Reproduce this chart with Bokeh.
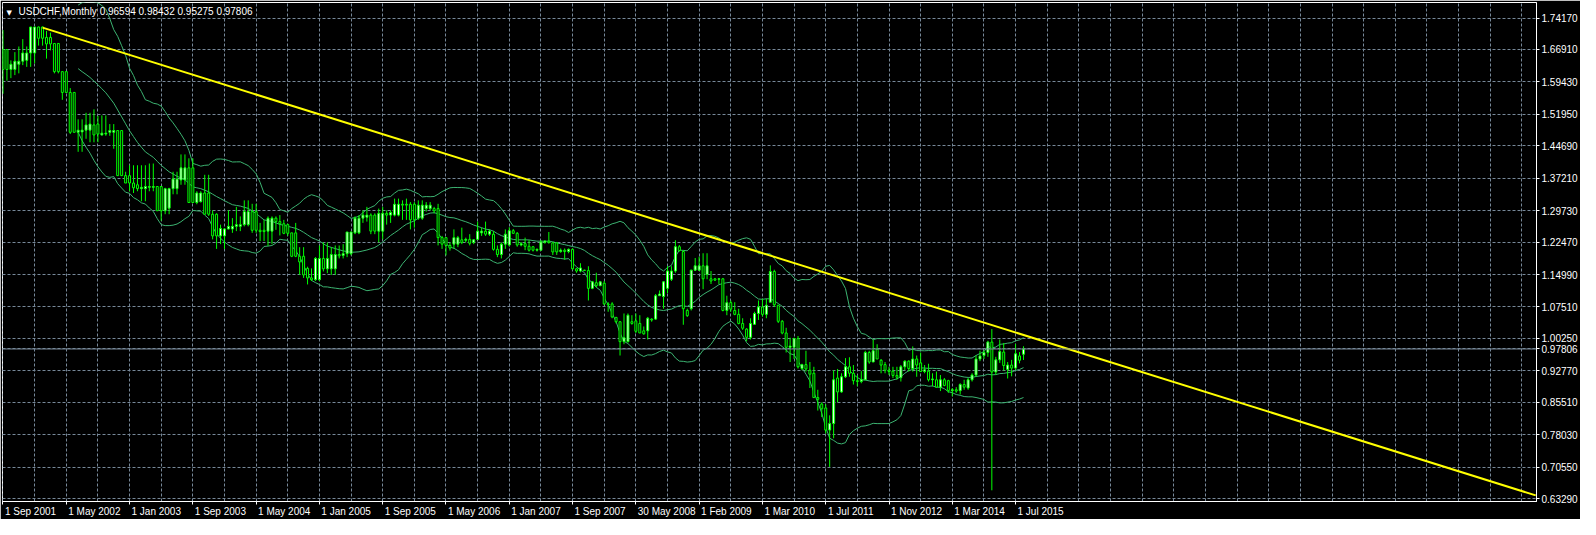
import numpy as np
from bokeh.plotting import figure
from bokeh.models import Range1d, FixedTicker, PrintfTickFormatter, Span, Label, ColumnDataSource, LinearAxis
from bokeh.embed import file_html
from bokeh.resources import INLINE

symbol = "USDCHF,Monthly"

opens = [
    1.669, 1.669, 1.623, 1.623, 1.635, 1.642, 1.644, 1.661, 1.661, 1.721,
    1.721, 1.697, 1.697, 1.683, 1.683, 1.618, 1.618, 1.570, 1.570, 1.478,
    1.479, 1.483, 1.483, 1.495, 1.497, 1.472, 1.474, 1.478, 1.478, 1.482,
    1.482, 1.378, 1.378, 1.361, 1.357, 1.348, 1.348, 1.351, 1.351, 1.353,
    1.353, 1.297, 1.303, 1.348, 1.348, 1.368, 1.368, 1.396, 1.396, 1.316,
    1.318, 1.338, 1.338, 1.289, 1.289, 1.239, 1.239, 1.255, 1.255, 1.261,
    1.261, 1.265, 1.265, 1.295, 1.295, 1.252, 1.252, 1.250, 1.250, 1.280,
    1.272, 1.267, 1.265, 1.246, 1.246, 1.192, 1.192, 1.164, 1.142, 1.138,
    1.138, 1.187, 1.163, 1.163, 1.163, 1.196, 1.194, 1.198, 1.198, 1.246,
    1.246, 1.280, 1.282, 1.287, 1.287, 1.250, 1.250, 1.291, 1.287, 1.287,
    1.287, 1.312, 1.312, 1.312, 1.312, 1.280, 1.280, 1.302, 1.302, 1.302,
    1.302, 1.235, 1.235, 1.217, 1.220, 1.220, 1.230, 1.229, 1.231, 1.224,
    1.231, 1.246, 1.250, 1.243, 1.243, 1.208, 1.196, 1.220, 1.218, 1.251,
    1.245, 1.218, 1.221, 1.215, 1.214, 1.206, 1.206, 1.224, 1.227, 1.223,
    1.223, 1.203, 1.206, 1.203, 1.208, 1.163, 1.158, 1.160, 1.159, 1.118,
    1.131, 1.124, 1.130, 1.082, 1.082, 1.051, 1.041, 0.995, 0.995, 1.041,
    1.043, 1.037, 1.020, 1.020, 1.047, 1.047, 1.101, 1.099, 1.118, 1.139,
    1.158, 1.214, 1.203, 1.067, 1.071, 1.160, 1.160, 1.170, 1.150, 1.140,
    1.140, 1.139, 1.140, 1.067, 1.085, 1.067, 1.058, 1.037, 1.024, 1.005,
    1.035, 1.060, 1.075, 1.058, 1.086, 1.157, 1.079, 1.042, 1.015, 0.982,
    0.982, 1.002, 0.933, 0.942, 0.929, 0.922, 0.866, 0.851, 0.842, 0.791,
    0.806, 0.911, 0.879, 0.914, 0.937, 0.922, 0.905, 0.903, 0.907, 0.970,
    0.948, 0.978, 0.952, 0.942, 0.929, 0.927, 0.917, 0.912, 0.937, 0.950,
    0.933, 0.955, 0.946, 0.926, 0.927, 0.907, 0.907, 0.890, 0.907, 0.905,
    0.882, 0.884, 0.882, 0.896, 0.888, 0.907, 0.918, 0.955, 0.963, 0.970,
    0.994, 0.925, 0.953, 0.971, 0.931, 0.941, 0.934, 0.962, 0.96594,
]
highs = [
    1.714, 1.669, 1.644, 1.663, 1.676, 1.693, 1.676, 1.721, 1.721, 1.722,
    1.722, 1.712, 1.708, 1.683, 1.683, 1.618, 1.618, 1.580, 1.570, 1.508,
    1.508, 1.523, 1.523, 1.531, 1.516, 1.517, 1.517, 1.497, 1.497, 1.482,
    1.482, 1.387, 1.402, 1.402, 1.402, 1.402, 1.402, 1.406, 1.406, 1.353,
    1.353, 1.350, 1.350, 1.387, 1.387, 1.427, 1.427, 1.418, 1.418, 1.342,
    1.342, 1.380, 1.380, 1.298, 1.291, 1.265, 1.257, 1.298, 1.280, 1.306,
    1.284, 1.321, 1.321, 1.313, 1.313, 1.269, 1.276, 1.284, 1.284, 1.284,
    1.287, 1.276, 1.267, 1.246, 1.269, 1.213, 1.213, 1.168, 1.164, 1.190,
    1.217, 1.224, 1.224, 1.213, 1.217, 1.217, 1.220, 1.248, 1.248, 1.284,
    1.287, 1.298, 1.306, 1.291, 1.291, 1.302, 1.306, 1.298, 1.298, 1.325,
    1.325, 1.321, 1.325, 1.317, 1.317, 1.321, 1.321, 1.317, 1.317, 1.306,
    1.313, 1.239, 1.235, 1.224, 1.254, 1.239, 1.258, 1.235, 1.243, 1.231,
    1.272, 1.258, 1.272, 1.254, 1.250, 1.217, 1.224, 1.254, 1.259, 1.255,
    1.248, 1.225, 1.235, 1.229, 1.215, 1.210, 1.229, 1.229, 1.248, 1.225,
    1.225, 1.210, 1.210, 1.210, 1.210, 1.165, 1.176, 1.161, 1.169, 1.135,
    1.154, 1.135, 1.135, 1.086, 1.086, 1.052, 1.041, 1.060, 1.060, 1.056,
    1.060, 1.056, 1.030, 1.052, 1.049, 1.105, 1.113, 1.135, 1.169, 1.169,
    1.229, 1.218, 1.206, 1.071, 1.161, 1.188, 1.191, 1.199, 1.199, 1.158,
    1.142, 1.142, 1.142, 1.101, 1.090, 1.086, 1.071, 1.049, 1.026, 1.049,
    1.064, 1.090, 1.094, 1.094, 1.171, 1.161, 1.079, 1.045, 1.027, 1.004,
    1.004, 1.008, 0.944, 0.974, 0.948, 0.937, 0.884, 0.855, 0.851, 0.825,
    0.929, 0.932, 0.922, 0.957, 0.959, 0.941, 0.918, 0.927, 0.974, 0.974,
    1.000, 0.989, 0.955, 0.948, 0.937, 0.937, 0.937, 0.941, 0.952, 0.952,
    0.984, 0.963, 0.970, 0.941, 0.944, 0.922, 0.926, 0.918, 0.911, 0.907,
    0.888, 0.890, 0.899, 0.907, 0.911, 0.922, 0.963, 0.974, 0.975, 0.997,
    1.024, 0.960, 1.000, 0.992, 0.948, 0.953, 0.990, 0.971, 0.98432,
]
lows = [
    1.567, 1.597, 1.603, 1.610, 1.614, 1.633, 1.629, 1.629, 1.637, 1.678,
    1.678, 1.648, 1.667, 1.614, 1.614, 1.553, 1.569, 1.474, 1.478, 1.433,
    1.433, 1.463, 1.455, 1.455, 1.455, 1.470, 1.470, 1.470, 1.440, 1.378,
    1.378, 1.361, 1.342, 1.338, 1.342, 1.319, 1.319, 1.342, 1.342, 1.297,
    1.274, 1.289, 1.289, 1.335, 1.335, 1.357, 1.357, 1.316, 1.316, 1.312,
    1.316, 1.289, 1.285, 1.231, 1.209, 1.220, 1.209, 1.254, 1.246, 1.250,
    1.250, 1.261, 1.261, 1.246, 1.246, 1.227, 1.227, 1.216, 1.220, 1.253,
    1.240, 1.243, 1.239, 1.190, 1.190, 1.149, 1.142, 1.127, 1.135, 1.135,
    1.135, 1.157, 1.153, 1.149, 1.149, 1.187, 1.187, 1.190, 1.194, 1.243,
    1.243, 1.269, 1.272, 1.243, 1.243, 1.224, 1.231, 1.265, 1.269, 1.284,
    1.284, 1.276, 1.276, 1.254, 1.258, 1.276, 1.276, 1.295, 1.298, 1.291,
    1.217, 1.209, 1.194, 1.205, 1.209, 1.213, 1.220, 1.224, 1.217, 1.220,
    1.231, 1.239, 1.239, 1.239, 1.205, 1.190, 1.187, 1.209, 1.215, 1.244,
    1.214, 1.215, 1.206, 1.203, 1.203, 1.203, 1.206, 1.221, 1.221, 1.195,
    1.195, 1.200, 1.184, 1.199, 1.161, 1.154, 1.155, 1.158, 1.090, 1.116,
    1.120, 1.124, 1.079, 1.064, 1.049, 1.037, 0.963, 0.989, 0.993, 1.034,
    1.015, 1.015, 1.011, 1.000, 1.041, 1.045, 1.101, 1.071, 1.107, 1.135,
    1.154, 1.203, 1.034, 1.052, 1.067, 1.158, 1.158, 1.116, 1.139, 1.128,
    1.135, 1.128, 1.065, 1.056, 1.064, 1.056, 1.035, 1.022, 0.996, 1.000,
    1.034, 1.045, 1.053, 1.049, 1.086, 1.075, 1.038, 1.012, 0.970, 0.948,
    0.955, 0.933, 0.929, 0.926, 0.888, 0.866, 0.836, 0.821, 0.783, 0.706,
    0.772, 0.855, 0.877, 0.911, 0.914, 0.896, 0.892, 0.899, 0.907, 0.944,
    0.948, 0.955, 0.922, 0.922, 0.918, 0.911, 0.907, 0.903, 0.929, 0.926,
    0.926, 0.914, 0.926, 0.922, 0.903, 0.892, 0.888, 0.881, 0.892, 0.877,
    0.869, 0.877, 0.873, 0.884, 0.884, 0.903, 0.914, 0.950, 0.955, 0.960,
    0.652, 0.918, 0.946, 0.928, 0.910, 0.915, 0.930, 0.945, 0.95275,
]
closes = [
    1.623, 1.623, 1.635, 1.642, 1.642, 1.661, 1.661, 1.721, 1.721, 1.695,
    1.695, 1.682, 1.682, 1.618, 1.618, 1.570, 1.570, 1.478, 1.478, 1.483,
    1.483, 1.495, 1.497, 1.472, 1.474, 1.476, 1.476, 1.482, 1.482, 1.378,
    1.378, 1.361, 1.361, 1.350, 1.348, 1.351, 1.353, 1.353, 1.353, 1.297,
    1.297, 1.348, 1.348, 1.370, 1.370, 1.396, 1.396, 1.316, 1.316, 1.338,
    1.338, 1.289, 1.289, 1.239, 1.239, 1.256, 1.255, 1.261, 1.261, 1.265,
    1.265, 1.295, 1.295, 1.252, 1.252, 1.249, 1.249, 1.280, 1.280, 1.272,
    1.267, 1.245, 1.245, 1.192, 1.192, 1.179, 1.149, 1.142, 1.138, 1.187,
    1.187, 1.163, 1.187, 1.196, 1.196, 1.193, 1.198, 1.248, 1.248, 1.280,
    1.280, 1.287, 1.287, 1.250, 1.250, 1.291, 1.291, 1.287, 1.293, 1.312,
    1.312, 1.310, 1.310, 1.276, 1.276, 1.310, 1.310, 1.310, 1.310, 1.297,
    1.235, 1.220, 1.217, 1.211, 1.235, 1.235, 1.224, 1.231, 1.222, 1.230,
    1.250, 1.250, 1.243, 1.250, 1.208, 1.196, 1.220, 1.243, 1.251, 1.245,
    1.218, 1.221, 1.215, 1.206, 1.206, 1.208, 1.225, 1.227, 1.224, 1.202,
    1.202, 1.206, 1.203, 1.208, 1.163, 1.158, 1.165, 1.159, 1.118, 1.133,
    1.124, 1.133, 1.082, 1.080, 1.052, 1.041, 0.995, 1.004, 1.056, 1.037,
    1.019, 1.015, 1.013, 1.049, 1.045, 1.101, 1.105, 1.133, 1.158, 1.158,
    1.214, 1.205, 1.071, 1.055, 1.160, 1.170, 1.170, 1.140, 1.170, 1.135,
    1.137, 1.140, 1.067, 1.085, 1.070, 1.058, 1.037, 1.026, 1.005, 1.037,
    1.060, 1.075, 1.058, 1.079, 1.157, 1.080, 1.042, 1.015, 0.982, 0.985,
    1.002, 0.937, 0.942, 0.932, 0.920, 0.866, 0.862, 0.840, 0.791, 0.806,
    0.907, 0.879, 0.914, 0.937, 0.922, 0.905, 0.903, 0.907, 0.970, 0.948,
    0.974, 0.955, 0.941, 0.929, 0.926, 0.917, 0.913, 0.937, 0.950, 0.933,
    0.955, 0.941, 0.926, 0.930, 0.907, 0.909, 0.890, 0.907, 0.894, 0.882,
    0.884, 0.881, 0.896, 0.890, 0.907, 0.918, 0.955, 0.962, 0.970, 0.994,
    0.925, 0.953, 0.972, 0.940, 0.941, 0.934, 0.967, 0.952, 0.97806,
]

date_labels = [
    "1 Sep 2001", "1 May 2002", "1 Jan 2003", "1 Sep 2003", "1 May 2004",
    "1 Jan 2005", "1 Sep 2005", "1 May 2006", "1 Jan 2007", "1 Sep 2007",
    "30 May 2008", "1 Feb 2009", "1 Mar 2010", "1 Jul 2011", "1 Nov 2012",
    "1 Mar 2014", "1 Jul 2015",
]
date_label_step = 16
grid_step = 8

price_ticks = [
    1.74170, 1.66910, 1.59430, 1.51950, 1.44690, 1.37210, 1.29730, 1.22470,
    1.14990, 1.07510, 1.00250, 0.92770, 0.85510, 0.78030, 0.70550, 0.63290,
]

trend_bars = [10, 387.5]
trend_prices = [1.7195, 0.6403]

bb_period = 20
bb_dev = 2.0

x_view = (-0.125, 387.7)
y_view = (0.6262, 1.7775)

# ------------------------------------------------------------------
FONT = "Liberation Sans"
FONT_PX = 10
GRID = "#778899"
LIME = "#00ff00"
FIG_W, FIG_H = 1580, 519
BORDER_L = 2

o = np.array(opens)
h = np.array(highs)
l = np.array(lows)
c = np.array(closes)
n = len(c)
bars = np.arange(n)
up = c >= o

src = ColumnDataSource(dict(
    x=bars, h=h, l=l,
    top=np.maximum(o, c), bottom=np.minimum(o, c),
    fill=np.where(up, "#ffffff", "#000000"),
))

bb_x, bb_mid, bb_up, bb_lo = [], [], [], []
for i in range(bb_period - 1, n):
    w = c[i - bb_period + 1:i + 1]
    m = w.mean()
    s = w.std()
    bb_x.append(i)
    bb_mid.append(m)
    bb_up.append(m + bb_dev * s)
    bb_lo.append(m - bb_dev * s)

# approximate advance widths (em) of Liberation Sans, used to left-align date labels
EM = {" ": 0.278, ".": 0.278, "S": 0.667, "M": 0.833, "J": 0.5, "F": 0.611, "N": 0.722,
      "e": 0.556, "p": 0.556, "a": 0.556, "y": 0.5, "n": 0.556, "b": 0.556, "r": 0.333,
      "u": 0.556, "l": 0.222, "o": 0.556, "v": 0.5}


def text_px(s):
    return sum(EM.get(ch, 0.556) for ch in s) * FONT_PX


right_axis_px = 3 + 2 + text_px("1.74170")
frame_px = FIG_W - BORDER_L - right_axis_px
px_per_bar = frame_px / (x_view[1] - x_view[0])

p = figure(
    width=FIG_W, height=FIG_H,
    x_range=Range1d(*x_view), y_range=Range1d(*y_view),
    output_backend="svg", toolbar_location=None,
    y_axis_location="right",
    background_fill_color="black", border_fill_color="black",
    outline_line_color="white", outline_line_width=1,
    min_border_left=BORDER_L, min_border_top=2, min_border_right=0, min_border_bottom=0,
)

# grids
p.xgrid.ticker = FixedTicker(ticks=list(range(0, int(x_view[1]) + 1, grid_step)))
for g in (p.xgrid[0], p.ygrid[0]):
    g.grid_line_color = GRID
    g.grid_line_dash = "3 2"
    g.grid_line_width = 1

# axes: price axis on the right (with the last price), date tick marks below
date_ticks = [i * date_label_step for i in range(len(date_labels))]
p.xaxis.ticker = FixedTicker(ticks=date_ticks)
p.xaxis.major_label_overrides = {t: "" for t in date_ticks}
p.xaxis.major_label_text_font_size = "0px"
p.xaxis.major_label_standoff = 0
p.yaxis.ticker = FixedTicker(ticks=price_ticks + [float(c[-1])])
p.yaxis.formatter = PrintfTickFormatter(format="%.5f")

# date labels, left-aligned at their tick
label_pos = [round(t + (text_px(s) / 2 + 2) / px_per_bar, 4) for t, s in zip(date_ticks, date_labels)]
date_axis = LinearAxis(ticker=FixedTicker(ticks=label_pos),
                       major_label_overrides={pos: s for pos, s in zip(label_pos, date_labels)})
p.add_layout(date_axis, "below")

for ax in (p.xaxis[0], p.yaxis[0], date_axis):
    ax.axis_line_color = "white"
    ax.major_tick_line_color = "white"
    ax.major_tick_out = 3
    ax.major_tick_in = 0
    ax.minor_tick_line_color = None
    ax.major_label_text_color = "white"
    ax.major_label_text_font = FONT
    ax.major_label_standoff = 2
p.yaxis.major_label_text_font_size = f"{FONT_PX}px"
date_axis.major_label_text_font_size = f"{FONT_PX}px"
date_axis.major_tick_line_color = None
date_axis.major_tick_out = 0
date_axis.axis_line_color = None
date_axis.major_label_standoff = 1
p.xaxis[0].major_label_standoff = 0
p.xaxis[0].major_label_text_font_size = "0px"

# Bollinger bands
for band in (bb_up, bb_mid, bb_lo):
    p.line(bb_x, band, line_color="#3cb371", line_width=1)

# candles
p.segment(x0="x", y0="l", x1="x", y1="h", source=src, line_color=LIME, line_width=1)
p.vbar(x="x", width=0.5, top="top", bottom="bottom", source=src,
       fill_color="fill", line_color=LIME, line_width=1)

# trend line
p.line(trend_bars, trend_prices, line_color="#ffff00", line_width=2)

# current price line
p.add_layout(Span(location=c[-1], dimension="width", line_color=GRID, line_width=1))

# chart caption
title = f"{symbol}  {o[-1]:.5f} {h[-1]:.5f} {l[-1]:.5f} {c[-1]:.5f}"
p.add_layout(Label(x=x_view[0], y=y_view[1], x_offset=4, y_offset=-6, text="\u25bc",
                   text_font="DejaVu Sans", text_font_size="7px", text_color="white",
                   text_baseline="top"))
p.add_layout(Label(x=x_view[0], y=y_view[1], x_offset=16, y_offset=-3, text=title,
                   text_font=FONT, text_font_size=f"{FONT_PX}px", text_color="white",
                   text_baseline="top"))

open("out.html", "w").write(file_html(p, INLINE))
